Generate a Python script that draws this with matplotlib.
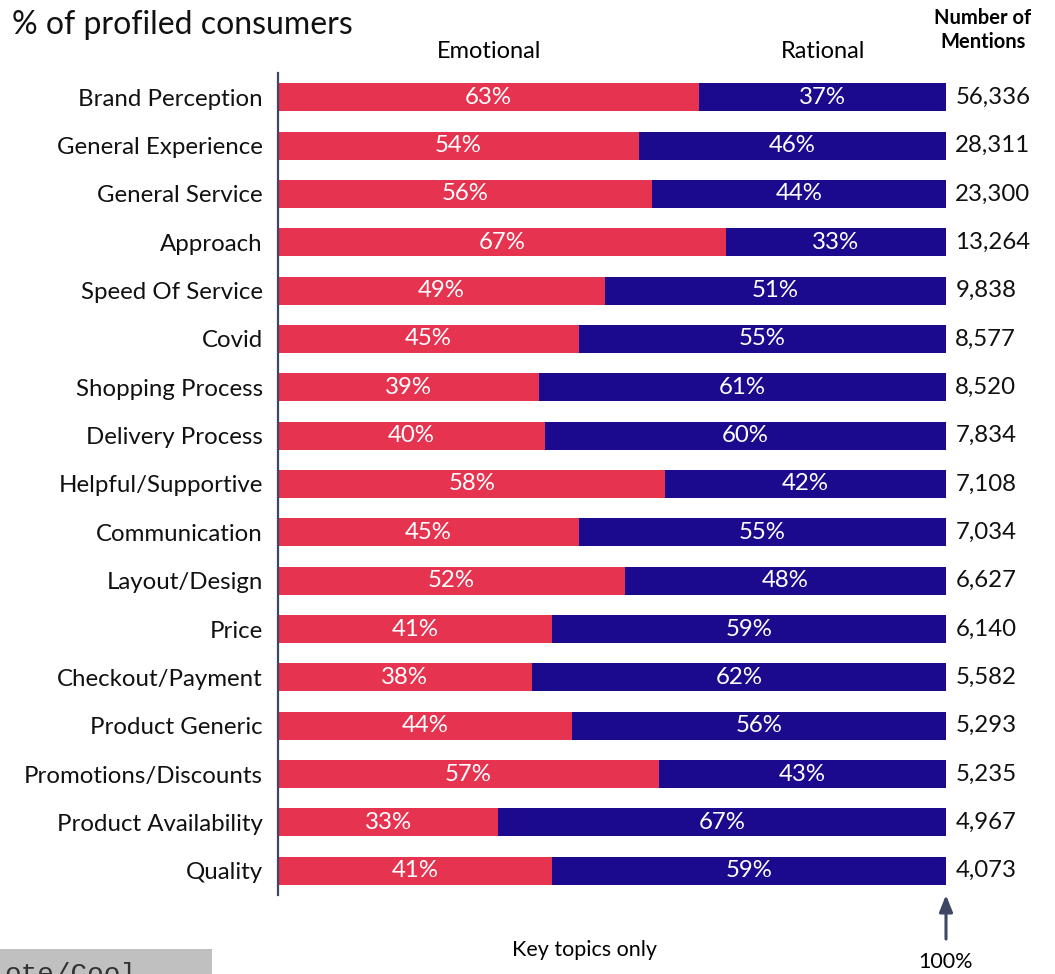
import matplotlib.pyplot as plt
from matplotlib.patches import Rectangle

plt.rcParams['font.family'] = ['Lato', 'DejaVu Sans']

topics = [
    "Brand Perception", "General Experience", "General Service", "Approach",
    "Speed Of Service", "Covid", "Shopping Process", "Delivery Process",
    "Helpful/Supportive", "Communication", "Layout/Design", "Price",
    "Checkout/Payment", "Product Generic", "Promotions/Discounts",
    "Product Availability", "Quality",
]
emotional = [63, 54, 56, 67, 49, 45, 39, 40, 58, 45, 52, 41, 38, 44, 57, 33, 41]
rational = [37, 46, 44, 33, 51, 55, 61, 60, 42, 55, 48, 59, 62, 56, 43, 67, 59]
mentions = [56336, 28311, 23300, 13264, 9838, 8577, 8520, 7834, 7108,
            7034, 6627, 6140, 5582, 5293, 5235, 4967, 4073]

RED = "#E53350"
BLUE = "#1B0A8E"
SLATE = "#3D4663"
FS = 17.3

W, H = 1055, 974
fig = plt.figure(figsize=(W / 100, H / 100), dpi=100)


def fx(px):
    return px / W


def fy(py):
    return 1 - py / H


ax = fig.add_axes([fx(278), fy(895), fx(946) - fx(278), fy(73) - fy(895)])

ys = range(len(topics))
ax.barh(ys, emotional, height=0.58, color=RED)
ax.barh(ys, rational, left=emotional, height=0.58, color=BLUE)

for i in ys:
    e, r = emotional[i], rational[i]
    ax.text(e / 2, i, f"{e}%", color="white", ha="center", va="center", fontsize=FS)
    ax.text(e + r / 2, i, f"{r}%", color="white", ha="center", va="center", fontsize=FS)
    ax.text(101.4, i, f"{mentions[i]:,}", ha="left", va="center", fontsize=FS,
            color="#111111")

ax.set_xlim(0, 100)
ax.set_ylim(len(topics) - 0.5, -0.5)
ax.set_yticks(list(ys))
ax.set_yticklabels(topics, fontsize=FS, color="#111111")
ax.tick_params(axis="y", length=0, pad=11)
ax.set_xticks([])
for s in ["top", "right", "bottom"]:
    ax.spines[s].set_visible(False)
ax.spines["left"].set_color(SLATE)
ax.spines["left"].set_linewidth(1.6)

# headers
fig.text(fx(12), fy(25), "% of profiled consumers", fontsize=23, ha="left", va="center",
         color="#111111")
fig.text(fx(489), fy(51), "Emotional", fontsize=17, ha="center", va="center")
fig.text(fx(823), fy(51), "Rational", fontsize=17, ha="center", va="center")
fig.text(fx(983), fy(30), "Number of\nMentions", fontsize=14.5, fontweight="bold",
         ha="center", va="center", linespacing=1.2)

# footer
fig.text(fx(585), fy(950), "Key topics only", fontsize=15.5, ha="center", va="center")
fig.text(fx(946), fy(962), "100%", fontsize=15.5, ha="center", va="center")
ax.annotate("", xy=(fx(946), fy(895)), xytext=(fx(946), fy(939)),
            xycoords="figure fraction", textcoords="figure fraction",
            arrowprops=dict(arrowstyle="-|>,head_width=0.4,head_length=1.0",
                            color=SLATE, lw=2.2, shrinkA=0, shrinkB=0))

fig.patches.append(Rectangle((0, 0), fx(212), fy(949), transform=fig.transFigure,
                             facecolor="#C0C0C0", edgecolor="none"))
fig.text(fx(4), fy(962), "ote/Cool", family="Liberation Mono", fontsize=20,
         ha="left", va="top", color="#333333")

fig.savefig("out.png", dpi=100)
